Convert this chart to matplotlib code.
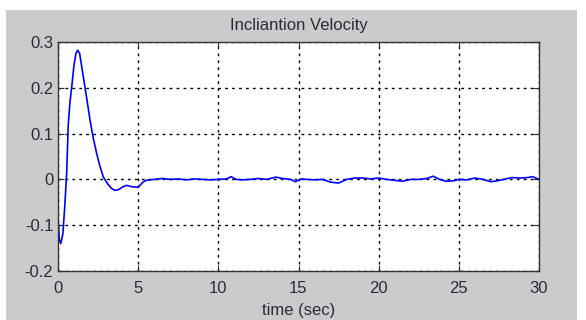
import matplotlib
matplotlib.use("Agg")
import matplotlib.pyplot as plt
from matplotlib.patches import Rectangle

# time (sec) and inclination velocity
t = [0.0, 0.08, 0.17, 0.3, 0.42, 0.54, 0.64, 0.75, 0.85, 1.0, 1.12, 1.23, 1.35,
     1.58, 1.8, 2.0, 2.2, 2.41, 2.62, 2.83, 3.1, 3.35, 3.55, 3.8, 4.05, 4.28,
     4.6, 5.0, 5.3, 5.5, 6.0, 6.5, 7.0, 7.5, 8.0, 8.5, 9.0, 9.5, 10.0, 10.5,
     10.8, 11.1, 11.5, 12.0, 12.5, 13.0, 13.6, 14.0, 14.5, 14.8, 15.2, 15.5,
     16.0, 16.5, 17.0, 17.5, 18.0, 18.5, 19.0, 19.5, 20.0, 20.5, 21.0, 21.5,
     22.0, 22.5, 23.0, 23.4, 23.8, 24.2, 24.7, 25.0, 25.5, 26.0, 26.5, 27.0,
     27.4, 27.8, 28.3, 28.8, 29.3, 29.6, 30.0]
v = [-0.082, -0.13, -0.14, -0.12, -0.06, 0.013, 0.12, 0.17, 0.2, 0.25, 0.275,
     0.282, 0.275, 0.224, 0.175, 0.129, 0.09, 0.057, 0.028, 0.005, -0.01,
     -0.02, -0.024, -0.022, -0.016, -0.013, -0.016, -0.017, -0.006, -0.002,
     0.0, 0.002, 0.0, 0.001, -0.001, 0.001, 0.0, -0.001, 0.0, 0.001, 0.006,
     0.0, -0.001, 0.0, 0.002, 0.0, 0.005, 0.002, 0.0, -0.005, 0.001, 0.0,
     -0.001, 0.0, -0.006, -0.008, 0.0, 0.003, 0.003, 0.001, 0.003, 0.0,
     -0.002, -0.004, 0.0, 0.0, 0.002, 0.007, 0.0, -0.004, -0.003, 0.0,
     -0.001, 0.003, 0.0, -0.005, -0.003, 0.0, 0.004, 0.003, 0.004, 0.006, 0.0]

xticks = [0, 5, 10, 15, 20, 25, 30]
yticks = [-0.2, -0.1, 0, 0.1, 0.2, 0.3]
yticklabels = ["-0.2", "-0.1", "0", "0.1", "0.2", "0.3"]

plt.rcParams['font.family'] = ['Liberation Sans', 'DejaVu Sans']

W, H = 586, 320
fig = plt.figure(figsize=(W / 100, H / 100), dpi=100, facecolor='white')
bg = Rectangle((6 / W, 0), (577 - 6) / W, (H - 10) / H,
               transform=fig.transFigure, facecolor='#cbcbcb',
               edgecolor='none', zorder=-10)
fig.add_artist(bg)

ax = fig.add_axes([58 / W, (H - 271) / H, (539 - 58) / W, (271 - 42) / H])
ax.set_zorder(1)
ax.set_facecolor('white')
ax.plot(t, v, color='#0000ff', linewidth=1.2)
ax.set_xlim(0, 30)
ax.set_ylim(-0.2, 0.3)
ax.set_xticks(xticks)
ax.set_xticklabels([str(x) for x in xticks])
ax.set_yticks(yticks)
ax.set_yticklabels(yticklabels)
ax.grid(True, color='black', linestyle=(0, (2, 3)), linewidth=1.0)
ax.tick_params(direction='in', length=4, top=True, right=True,
               labelsize=12, colors='#2a2a3a')
ax.tick_params(axis='x', pad=7)
ax.tick_params(axis='y', pad=3.4)
for s in ax.spines.values():
    s.set_color('#333333')
    s.set_linewidth(1.0)
ax.set_title("Incliantion Velocity", fontsize=12, color='#2a2a3a', pad=8.6)
ax.set_xlabel("time (sec)", fontsize=12, color='#2a2a3a', labelpad=5)

fig.savefig("out.png", dpi=100, facecolor='white')
